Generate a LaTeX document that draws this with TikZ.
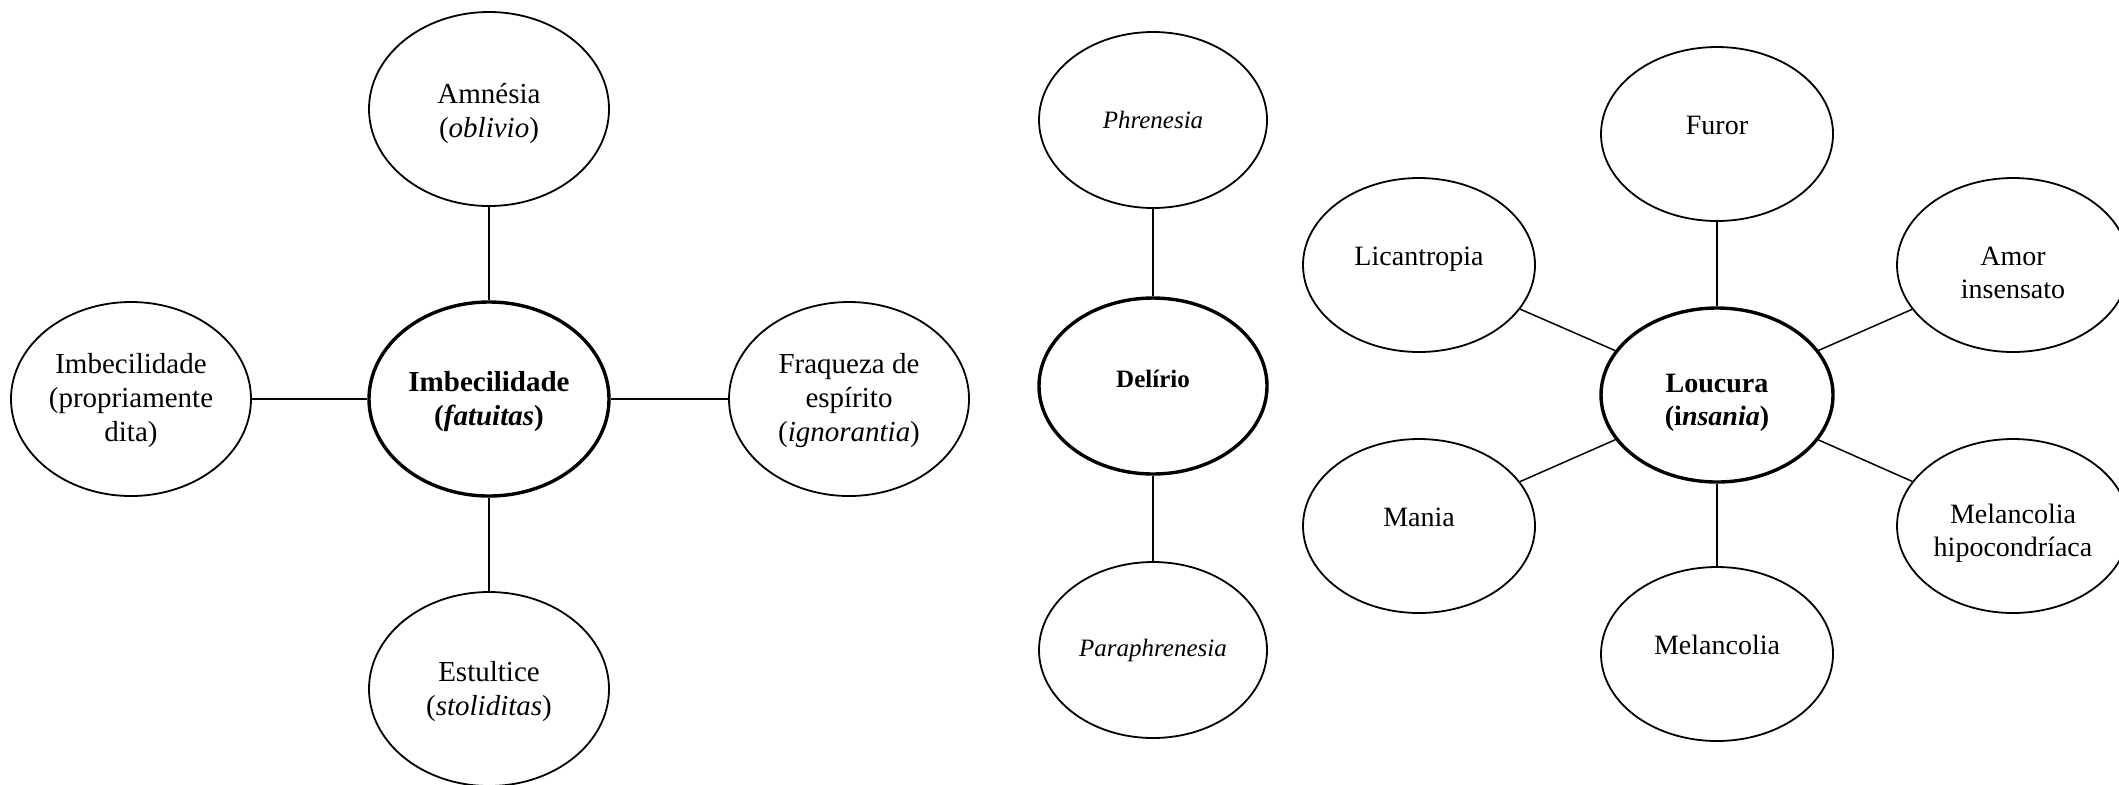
\documentclass[tikz,border=0pt]{standalone}
\usepackage{fontspec}
\setmainfont{Liberation Serif}
\usetikzlibrary{shapes.geometric}
\newcommand\tdn[1]{\rule{0pt}{#1}}
\tikzset{
  x=0.5pt, y=-0.5pt,
  bub/.style={draw, ellipse, line width=0.9pt, inner sep=0pt, align=center},
  lbub/.style={bub, minimum width=120pt, minimum height=97pt, font=\fontsize{14.5pt}{17pt}\selectfont},
  mbub/.style={bub, minimum width=114pt, minimum height=88pt, font=\fontsize{12.5pt}{15pt}\selectfont},
  rbub/.style={bub, minimum width=116pt, minimum height=87pt, font=\fontsize{14pt}{16.5pt}\selectfont},
  hub/.style={line width=1.7pt},
  link/.style={line width=0.75pt},
}
\begin{document}
\begin{tikzpicture}
\useasboundingbox (0,0) rectangle (2119,784);
% left group
\node[lbub] (amn) at (489,109) {\tdn{15pt}Amnésia\\(\textit{oblivio})};
\node[lbub,hub] (imb) at (489,399) {\tdn{13pt}\textbf{Imbecilidade}\\\textbf{(\textit{fatuitas})}};
\node[lbub] (imbp) at (131,399) {\tdn{12pt}Imbecilidade\\(propriamente\\dita)};
\node[lbub] (fra) at (849,399) {\tdn{12pt}Fraqueza de\\espírito\\(\textit{ignorantia})};
\node[lbub] (est) at (489,689) {\tdn{13pt}Estultice\\(\textit{stoliditas})};
\draw[link] (imb) -- (amn);
\draw[link] (imb) -- (imbp);
\draw[link] (imb) -- (fra);
\draw[link] (imb) -- (est);
% middle group
\node[mbub] (phr) at (1153,120) {\textit{Phrenesia}};
\node[mbub,hub] (del) at (1153,386) {\raisebox{7pt}{\textbf{Delírio}}};
\node[mbub] (par) at (1153,650) {\textit{Paraphrenesia}};
\draw[link] (del) -- (phr);
\draw[link] (del) -- (par);
% right group
\node[rbub,hub] (lou) at (1717,395) {\tdn{17pt}\textbf{Loucura}\\\textbf{(i\textit{nsania})}};
\node[rbub] (fur) at (1717,134) {\raisebox{9pt}{Furor}};
\node[rbub] (lic) at (1419,265) {\raisebox{9pt}{Licantropia}};
\node[rbub] (amo) at (2013,265) {\tdn{17pt}Amor\\insensato};
\node[rbub] (man) at (1419,526) {\raisebox{9pt}{Mania}};
\node[rbub] (mhi) at (2013,526) {\tdn{17pt}Melancolia\\hipocondríaca};
\node[rbub] (mel) at (1717,654) {\raisebox{9pt}{Melancolia}};
\draw[link] (lou) -- (fur);
\draw[link] (lou) -- (lic);
\draw[link] (lou) -- (amo);
\draw[link] (lou) -- (man);
\draw[link] (lou) -- (mhi);
\draw[link] (lou) -- (mel);
\end{tikzpicture}
\end{document}
